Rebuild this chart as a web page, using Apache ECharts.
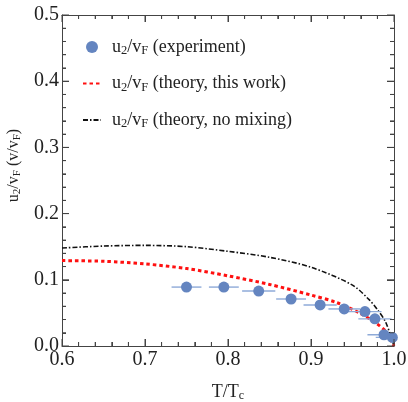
<!DOCTYPE html>
<html>
<head>
<meta charset="utf-8">
<script src="https://cdn.jsdelivr.net/npm/echarts@6/dist/echarts.min.js"></script>
<style>
  html, body { margin: 0; padding: 0; background: #fff; }
  #chart { width: 408px; height: 402px; }
</style>
</head>
<body>
<div id="chart"></div>
<script>
// experiment points (T/Tc, u2/vF) with error bars
var tExp = [0.750, 0.795, 0.837, 0.876, 0.911, 0.940, 0.965, 0.977, 0.988, 0.998]
var uExp = [0.089, 0.089, 0.083, 0.071, 0.062, 0.056, 0.052, 0.041, 0.017, 0.013]
var tErr = [0.018, 0.018, 0.020, 0.018, 0.020, 0.019, 0.020, 0.020, 0.020, 0.020]
var uErr = [0.006, 0.004, 0.003, 0.003, 0.003, 0.003, 0.003, 0.003, 0.003, 0.003]

// theory, this work
var tTheory = [0.60, 0.65, 0.70, 0.75, 0.80, 0.85, 0.90, 0.93, 0.96, 0.98, 0.99, 1.00]
var uTheory = [0.129, 0.128, 0.124, 0.117, 0.106, 0.093, 0.077, 0.066, 0.049, 0.033, 0.022, 0.0]

// theory, no mixing
var tNoMix = [0.60, 0.65, 0.70, 0.75, 0.80, 0.85, 0.90, 0.95, 0.97, 0.98, 0.99, 1.00]
var uNoMix = [0.148, 0.151, 0.152, 0.150, 0.143, 0.134, 0.119, 0.092, 0.070, 0.055, 0.036, 0.0]

var xTicks = ['0.6', '0.7', '0.8', '0.9', '1.0']
var yTicks = ['0.0', '0.1', '0.2', '0.3', '0.4', '0.5']

var serif = 'Liberation Serif'
var axisColor = '#444'
var dotColor = '#6485c0'
var barColor = '#8eaad8'

var sub = {
  n: { fontFamily: serif, fontSize: 16, color: '#222' },
  s: { fontFamily: serif, fontSize: 11, color: '#222', padding: [7, 0, 0, 0] }
}
var legSub = {
  f: { fontFamily: serif, fontSize: 18, color: '#222', padding: [0, 0, 0, 6] },
  n: { fontFamily: serif, fontSize: 18, color: '#222' },
  s: { fontFamily: serif, fontSize: 12.5, color: '#222', padding: [8, 0, 0, 0] }
}

function pairs (xs, ys) {
  return xs.map(function (x, i) { return [x, ys[i]] })
}

// frame tick values: major at the labelled values, 4 minor ticks between them
function tickValues (labels) {
  var out = []
  var first = parseFloat(labels[0])
  for (var i = 0; i < (labels.length - 1) * 5 + 1; i++) {
    out.push([+(first + i * 0.02).toFixed(2), i % 5 === 0 ? 1 : 0])
  }
  return out
}

var chart = echarts.init(document.getElementById('chart'))

function frameAxis (extra) {
  return Object.assign({
    type: 'value',
    axisLine: { show: true, onZero: false, lineStyle: { color: axisColor, width: 1 } },
    axisTick: { show: true, inside: true, length: 7, lineStyle: { color: axisColor, width: 1 } },
    minorTick: { show: true, splitNumber: 5, length: 4, lineStyle: { color: axisColor, width: 1 } },
    splitLine: { show: false }
  }, extra)
}

// ticks on all four sides, placed through the axes' own scales
function tickSeries (dim) {
  var data = tickValues(dim === 'x' ? xTicks : yTicks).map(function (d) {
    return dim === 'x' ? [d[0], 0.25, d[1]] : [0.8, d[0], d[1]]
  })
  return {
    type: 'custom',
    silent: true,
    clip: false,
    data: data,
    renderItem: function (params, api) {
      var len = api.value(2) ? 7 : 4
      var st = { stroke: axisColor, lineWidth: 1 }
      var a, b
      if (dim === 'x') {
        a = api.coord([api.value(0), 0]); b = api.coord([api.value(0), 0.5])
        return { type: 'group', children: [
          { type: 'line', shape: { x1: a[0], y1: a[1], x2: a[0], y2: a[1] - len }, style: st },
          { type: 'line', shape: { x1: b[0], y1: b[1], x2: b[0], y2: b[1] + len }, style: st }
        ] }
      }
      a = api.coord([0.6, api.value(1)]); b = api.coord([1.0, api.value(1)])
      return { type: 'group', children: [
        { type: 'line', shape: { x1: a[0], y1: a[1], x2: a[0] + len, y2: a[1] }, style: st },
        { type: 'line', shape: { x1: b[0], y1: b[1], x2: b[0] - len, y2: b[1] }, style: st }
      ] }
    },
    z: 6
  }
}

var option = {
  backgroundColor: '#fff',
  animation: false,
  grid: { left: 62, right: 14, top: 15, bottom: 56, outerBoundsMode: 'none', containLabel: false },
  legend: {
    orient: 'vertical',
    left: 77,
    top: 33,
    itemGap: 17,
    itemWidth: 18,
    itemHeight: 12,
    data: [
      { name: 'exp', icon: 'circle' },
      { name: 'theory', itemStyle: { opacity: 0 } },
      { name: 'nomix', itemStyle: { opacity: 0 } }
    ],
    formatter: function (name) {
      if (name === 'exp') return '{f|u}{s|2}{n|/v}{s|F}{n| (experiment)}'
      if (name === 'theory') return '{f|u}{s|2}{n|/v}{s|F}{n| (theory, this work)}'
      return '{f|u}{s|2}{n|/v}{s|F}{n| (theory, no mixing)}'
    },
    textStyle: { rich: legSub }
  },
  xAxis: [
    frameAxis({
      min: 0.6, max: 1.0, interval: 0.1,
      position: 'bottom',
      name: '{n|T/T}{s|c}',
      nameLocation: 'middle',
      nameGap: 36,
      nameTextStyle: { rich: {
        n: { fontFamily: serif, fontSize: 18, color: '#222' },
        s: { fontFamily: serif, fontSize: 12, color: '#222', padding: [8, 0, 0, 0] }
      } },
      axisLabel: {
        fontFamily: serif, fontSize: 20, color: '#222', margin: 4,
        formatter: function (v) { return xTicks[Math.round((v - 0.6) * 10)] }
      }
    }),
    frameAxis({ min: 0.6, max: 1.0, interval: 0.1, position: 'top', axisLabel: { show: false } })
  ],
  yAxis: [
    frameAxis({
      min: 0, max: 0.5, interval: 0.1,
      position: 'left',
      name: '{n|u}{s|2}{n|/v}{s|F}{n| (v/v}{s|F}{n|)}',
      nameLocation: 'middle',
      nameGap: 38,
      nameTextStyle: { rich: sub, padding: [0, 0, 0, 30] },
      axisLabel: {
        fontFamily: serif, fontSize: 20, color: '#222', margin: 3,
        formatter: function (v) { return yTicks[Math.round(v * 10)] }
      }
    }),
    frameAxis({ min: 0, max: 0.5, interval: 0.1, position: 'right', axisLabel: { show: false } })
  ],
  series: [
    tickSeries('x'),
    tickSeries('y'),
    {
      name: 'nomix',
      type: 'line',
      smooth: 0.3,
      symbol: 'none',
      data: pairs(tNoMix, uNoMix),
      lineStyle: { color: '#111', width: 1.6, type: [5, 2, 1.5, 2] },
      itemStyle: { color: '#111' },
      z: 3
    },
    {
      name: 'theory',
      type: 'line',
      smooth: 0.3,
      symbol: 'none',
      data: pairs(tTheory, uTheory),
      lineStyle: { color: '#ff1010', width: 3, type: [3.5, 3] },
      itemStyle: { color: '#ff1010' },
      z: 3
    },
    {
      type: 'custom',
      clip: true,
      data: tExp.map(function (t, i) { return [t, uExp[i], tErr[i], uErr[i]] }),
      renderItem: function (params, api) {
        var x = api.value(0), y = api.value(1), dx = api.value(2), dy = api.value(3)
        var a = api.coord([x - dx, y]), b = api.coord([x + dx, y])
        var c = api.coord([x, y - dy]), d = api.coord([x, y + dy])
        var st = { stroke: barColor, lineWidth: 1.4 }
        return {
          type: 'group',
          children: [
            { type: 'line', shape: { x1: a[0], y1: a[1], x2: b[0], y2: b[1] }, style: st },
            { type: 'line', shape: { x1: c[0], y1: c[1], x2: d[0], y2: d[1] }, style: st }
          ]
        }
      },
      z: 4
    },
    {
      name: 'exp',
      type: 'scatter',
      symbol: 'circle',
      symbolSize: 11,
      data: pairs(tExp, uExp),
      itemStyle: { color: dotColor, opacity: 1 },
      z: 5
    }
  ]
}

chart.setOption(option)
</script>
</body>
</html>
